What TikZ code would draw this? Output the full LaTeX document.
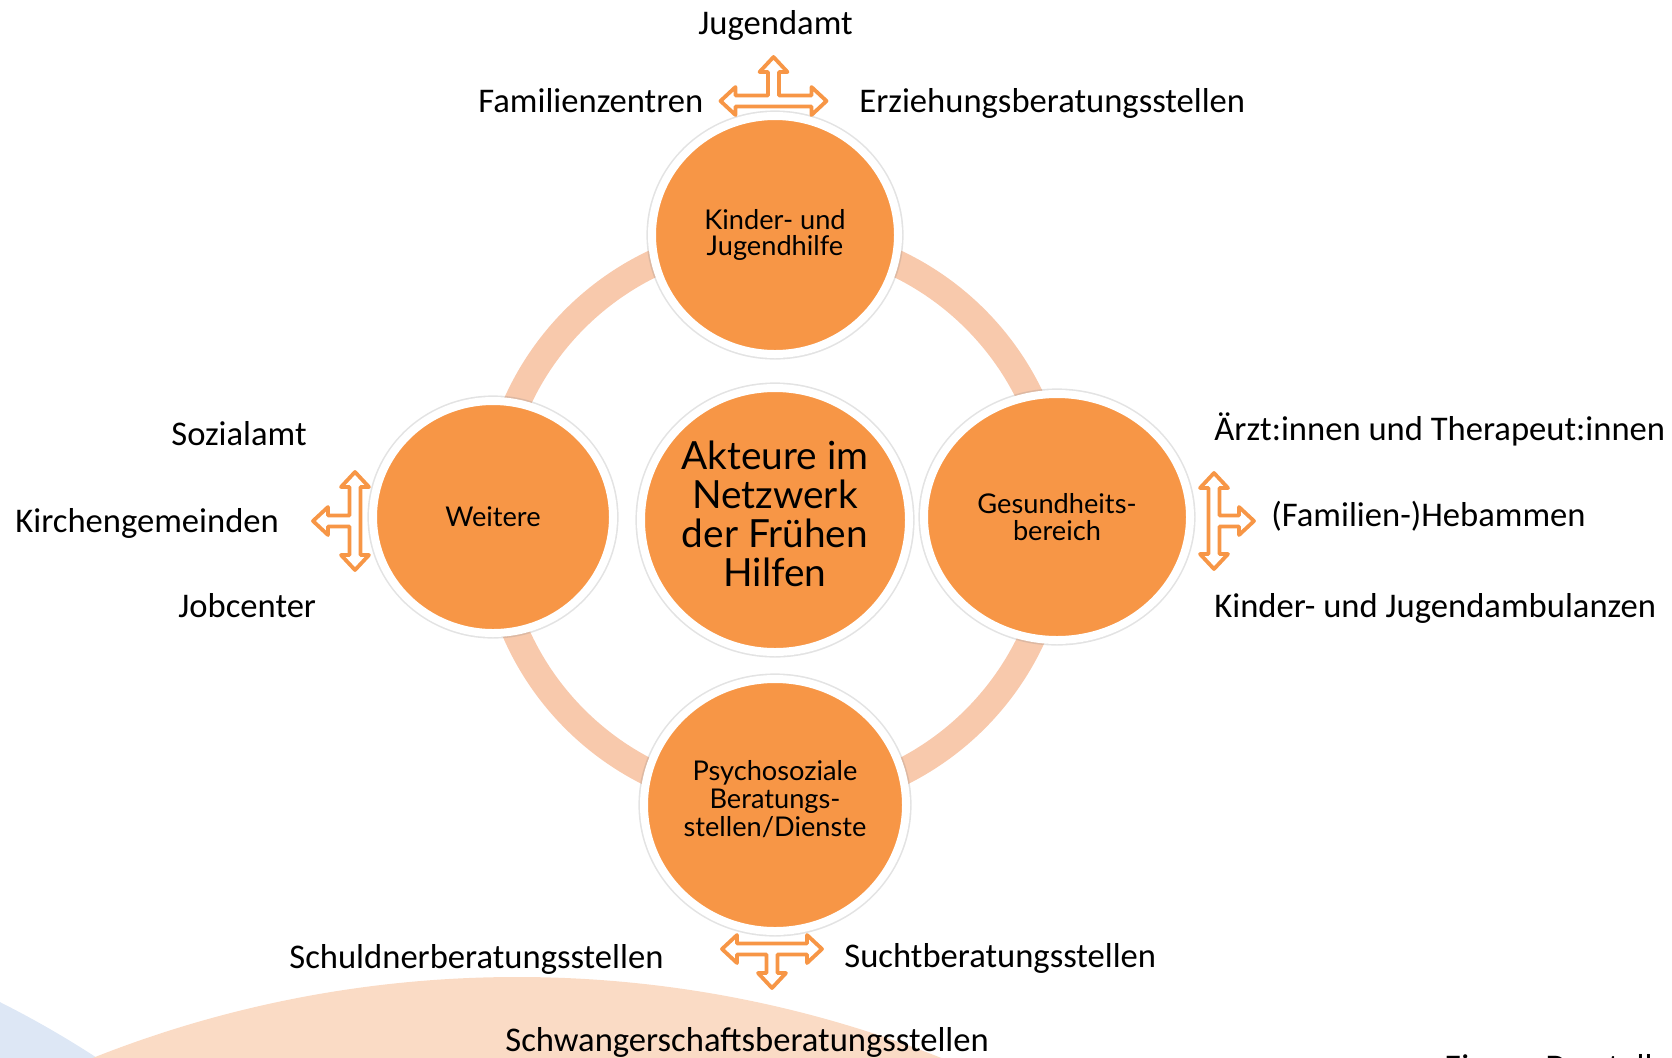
\documentclass[tikz,border=0pt]{standalone}
\usepackage{fontspec}
\setmainfont{Carlito}
\newfontfamily\latofont{Lato}
\usetikzlibrary{shapes.geometric,shadows}
\definecolor{orng}{HTML}{F79646}
\definecolor{ringc}{HTML}{F8C9AC}
\definecolor{peach}{HTML}{FADBC5}
\definecolor{lblue}{HTML}{DDE7F5}
\newcommand\tjarrow[4]{%
\begin{scope}[shift={(#1)},rotate=#2]
\draw[tarrow] (-#3,0) -- ({-#3+15},-14) -- ({-#3+15},-5.5) -- (-5.5,-5.5) -- (-5.5,{-#4+15}) -- (-14,{-#4+15}) -- (0,-#4) -- (14,{-#4+15}) -- (5.5,{-#4+15}) -- (5.5,-5.5) -- ({#3-15},-5.5) -- ({#3-15},-14) -- (#3,0) -- ({#3-15},14) -- ({#3-15},5.5) -- ({-#3+15},5.5) -- ({-#3+15},14) -- cycle;
\end{scope}}
\begin{document}
\begin{tikzpicture}[x=0.5pt,y=-0.5pt,
  bubble/.style={ellipse, fill=orng, draw=white, line width=4pt, inner sep=0pt, outer sep=0pt, align=center, text=black,
    drop shadow={shadow xshift=0.5pt, shadow yshift=-1.8pt, opacity=0.22, fill=black!70},
    preaction={draw=black!50, draw opacity=0.22, line width=5.6pt}},
  small/.style={font=\latofont\fontsize{13.6}{13.2}\selectfont},
  big/.style={font=\latofont\fontsize{19.4}{19.5}\selectfont},
  txt/.style={inner sep=0pt, align=center, text=black},
  lbl/.style={font=\fontsize{17.3}{20}\selectfont, anchor=base west, inner sep=0pt, text=black},
  tarrow/.style={draw=orng, fill=white, line width=1.9pt, line join=round},
  ring/.style={draw=ringc, line width=13.5pt}]
\useasboundingbox (0,0) rectangle (1672,1057);
\clip (0,0) rectangle (1672,1057);
% background shapes
\fill[lblue] (-449,1897) circle[radius=1001];
\fill[peach] (517,2125) circle[radius=1148];
% ring
\coordinate (hub) at (775,519);
\draw[ring] (hub) circle[radius=283];
% circles
\node[bubble, minimum width=134pt, minimum height=132pt] (center) at (775,520) {};
\node[txt, big] (centertext) at (775,514) {Akteure im\\Netzwerk\\der Frühen\\Hilfen};
\node[bubble, minimum width=123pt, minimum height=119pt] (kjh) at (775,235) {};
\node[txt, font=\latofont\fontsize{13.6}{12.8}\selectfont] (kjhtext) at (775,235) {Kinder- und\\Jugendhilfe};
\node[bubble, small, minimum width=120pt, minimum height=116pt] (weitere) at (493,517) {Weitere};
\node[bubble, minimum width=133pt, minimum height=123pt] (gesund) at (1057,517) {};
\node[txt, font=\latofont\fontsize{13.6}{13.5}\selectfont] (gesundtext) at (1057,517) {Gesundheits-\\bereich};
\node[bubble, minimum width=131pt, minimum height=126pt] (psycho) at (775,805) {};
\node[txt, font=\latofont\fontsize{13.6}{14}\selectfont] (psychotext) at (775,799) {Psychosoziale\\Beratungs-\\stellen/Dienste};
% arrows
\tjarrow{773.5,101}{0}{53}{44}
\tjarrow{1214,521}{-90}{48}{40}
\tjarrow{355,521}{90}{49}{42}
\tjarrow{772,949}{180}{50}{39}
% labels
\node[lbl] (jugendamt) at (698,34) {Jugendamt};
\node[lbl] (famz) at (478,112) {Familienzentren};
\node[lbl] (erz) at (859,112) {Erziehungsberatungsstellen};
\node[lbl] (sozial) at (171,445) {Sozialamt};
\node[lbl] (kirche) at (15,532) {Kirchengemeinden};
\node[lbl] (job) at (178,617) {Jobcenter};
\node[lbl] (arzt) at (1214,440) {Ärzt:innen und Therapeut:innen};
\node[lbl] (heb) at (1271,526) {(Familien-)Hebammen};
\node[lbl] (amb) at (1214,617) {Kinder- und Jugendambulanzen};
\node[lbl] (schuld) at (289,968) {Schuldnerberatungsstellen};
\node[lbl] (sucht) at (844,967) {Suchtberatungsstellen};
\node[lbl] (schwanger) at (505,1051) {Schwangerschaftsberatungsstellen};
\node[lbl] (eigene) at (1444,1078) {Eigene Darstellung};
\end{tikzpicture}
\end{document}
